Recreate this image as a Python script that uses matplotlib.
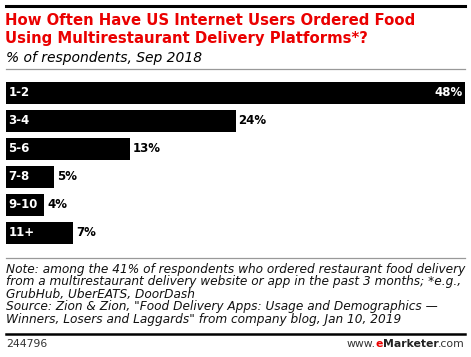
import matplotlib.pyplot as plt
from matplotlib.lines import Line2D

categories = ['1-2', '3-4', '5-6', '7-8', '9-10', '11+']
values = [48, 24, 13, 5, 4, 7]

W, H = 471, 357
fig = plt.figure(figsize=(W / 100, H / 100), dpi=100)
plt.rcParams['font.family'] = ['DejaVu Sans']


def fx(px):
    return px / W


def fy(py):
    return 1 - py / H


def hline(y, x0, x1, color, lw):
    fig.add_artist(Line2D([fx(x0), fx(x1)], [fy(y), fy(y)], color=color, lw=lw,
                          transform=fig.transFigure))


# rules
hline(6, 6, 465, 'black', 2.2)
hline(69, 6, 465, '#999999', 0.9)
hline(258, 6, 465, '#999999', 0.9)
hline(334, 6, 465, 'black', 1.8)

# title
red = '#ea0000'
fig.text(fx(5), fy(25), 'How Often Have US Internet Users Ordered Food', color=red,
         fontsize=10.7, fontweight='bold', va='baseline')
fig.text(fx(5), fy(43), 'Using Multirestaurant Delivery Platforms*?', color=red,
         fontsize=10.7, fontweight='bold', va='baseline')
fig.text(fx(6), fy(62), '% of respondents, Sep 2018', color='black',
         fontsize=10, style='italic', va='baseline')

# bars
ax = fig.add_axes([fx(6), fy(247), fx(459), fy(79) - fy(247)])
y = list(range(len(categories)))
ax.barh(y, values, height=0.76, color='black')
ax.set_xlim(0, 48)
ax.set_ylim(len(categories) - 0.5, -0.5)
ax.axis('off')
for i, (c, v) in enumerate(zip(categories, values)):
    ax.text(0.25, i, c, color='white', fontsize=8.5, fontweight='bold', va='center', ha='left')
    if v == max(values):
        ax.text(v - 0.25, i, f'{v}%', color='white', fontsize=8.5, fontweight='bold',
                va='center', ha='right')
    else:
        ax.text(v + 0.3, i, f'{v}%', color='black', fontsize=8.5, fontweight='bold',
                va='center', ha='left')

# notes
notes = [
    'Note: among the 41% of respondents who ordered restaurant food delivery',
    'from a multirestaurant delivery website or app in the past 3 months; *e.g.,',
    'GrubHub, UberEATS, DoorDash',
    'Source: Zion & Zion, "Food Delivery Apps: Usage and Demographics \u2014',
    'Winners, Losers and Laggards" from company blog, Jan 10, 2019',
]
for k, line in enumerate(notes):
    fig.text(fx(6), fy(273 + k * 12.4), line, fontsize=8.7, style='italic',
             va='baseline', color='#111111')

fig.text(fx(6), fy(347), '244796', fontsize=7.8, color='#333333', va='baseline')
# logo text built from the right edge
r = fig.canvas.get_renderer()
x = fx(465)
for part, col, wt in [('.com', '#333333', 'normal'), ('Marketer', '#222222', 'bold'),
                      ('e', red, 'bold'), ('www.', '#333333', 'normal')]:
    t = fig.text(x, fy(347), part, fontsize=7.8, color=col, fontweight=wt,
                 va='baseline', ha='right')
    bb = t.get_window_extent(renderer=r)
    x -= bb.width / fig.bbox.width

fig.savefig('out.png', dpi=100)
